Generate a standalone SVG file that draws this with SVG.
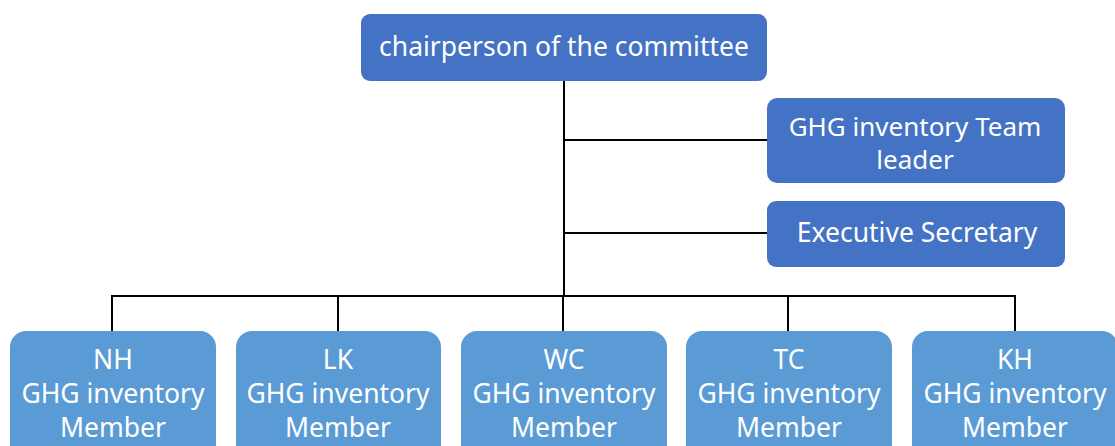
<svg xmlns="http://www.w3.org/2000/svg" width="1115" height="446" viewBox="0 0 1115 446">
  <style>
    .lead { fill: #4472C4; }
    .member { fill: #5B9BD5; }
    .lbl { font-family: "Noto Sans", "Open Sans", sans-serif; fill: #ffffff; text-anchor: middle; }
    .big { font-size: 26.5px; }
    .two { font-size: 26px; }
    .mid { font-size: 26.5px; }
    .conn { stroke: #000000; stroke-width: 2; fill: none; }
  </style>
  <rect width="1115" height="446" fill="#ffffff"/>

  <g id="connectors">
    <path class="conn" d="M564 80 V296"/>
    <path class="conn" d="M564 140 H767"/>
    <path class="conn" d="M564 233 H767"/>
    <path class="conn" d="M112 331 V296 H1015 V331"/>
    <path class="conn" d="M338 296 V331"/>
    <path class="conn" d="M563 296 V331"/>
    <path class="conn" d="M788 296 V331"/>
  </g>

  <g id="chair">
    <rect class="lead" x="361" y="14" width="406" height="67" rx="9"/>
    <text class="lbl big" x="564" y="56">chairperson of the committee</text>
  </g>

  <g id="team-leader">
    <rect class="lead" x="767" y="98" width="298" height="85" rx="10"/>
    <text class="lbl two" x="915" y="136">GHG inventory Team</text>
    <text class="lbl two" x="915" y="169">leader</text>
  </g>

  <g id="secretary">
    <rect class="lead" x="767" y="201" width="298" height="66" rx="9"/>
    <text class="lbl big" x="917" y="242">Executive Secretary</text>
  </g>

  <g id="member-nh">
    <rect class="member" x="10" y="331" width="206" height="130" rx="16"/>
    <text class="lbl mid" x="113" y="369">NH</text>
    <text class="lbl mid" x="113" y="403">GHG inventory</text>
    <text class="lbl mid" x="113" y="437">Member</text>
  </g>

  <g id="member-lk">
    <rect class="member" x="236" y="331" width="205" height="130" rx="16"/>
    <text class="lbl mid" x="338" y="369">LK</text>
    <text class="lbl mid" x="338" y="403">GHG inventory</text>
    <text class="lbl mid" x="338" y="437">Member</text>
  </g>

  <g id="member-wc">
    <rect class="member" x="461" y="331" width="206" height="130" rx="16"/>
    <text class="lbl mid" x="564" y="369">WC</text>
    <text class="lbl mid" x="564" y="403">GHG inventory</text>
    <text class="lbl mid" x="564" y="437">Member</text>
  </g>

  <g id="member-tc">
    <rect class="member" x="686" y="331" width="206" height="130" rx="16"/>
    <text class="lbl mid" x="789" y="369">TC</text>
    <text class="lbl mid" x="789" y="403">GHG inventory</text>
    <text class="lbl mid" x="789" y="437">Member</text>
  </g>

  <g id="member-kh">
    <rect class="member" x="912" y="331" width="206" height="130" rx="16"/>
    <text class="lbl mid" x="1015" y="369">KH</text>
    <text class="lbl mid" x="1015" y="403">GHG inventory</text>
    <text class="lbl mid" x="1015" y="437">Member</text>
  </g>
</svg>
